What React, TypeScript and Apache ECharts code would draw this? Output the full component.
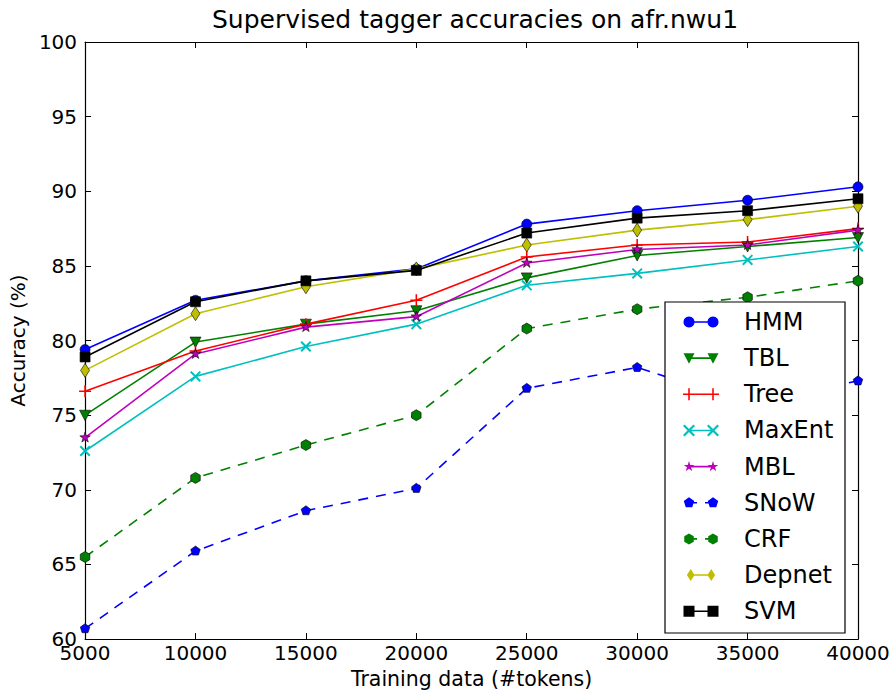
import React, { useEffect, useRef } from "react";
import * as echarts from "echarts";

const TITLE = "Supervised tagger accuracies on afr.nwu1";
const X_NAME = "Training data (#tokens)";
const Y_NAME = "Accuracy (%)";

const TOKENS = [5000, 10000, 15000, 20000, 25000, 30000, 35000, 40000];

const HMM = [79.4, 82.7, 84.0, 84.8, 87.8, 88.7, 89.4, 90.3];
const TBL = [75.0, 79.9, 81.1, 82.0, 84.2, 85.7, 86.3, 86.9];
const TREE = [76.6, 79.3, 81.1, 82.7, 85.6, 86.4, 86.6, 87.5];
const MAXENT = [72.6, 77.6, 79.6, 81.1, 83.7, 84.5, 85.4, 86.3];
const MBL = [73.5, 79.1, 80.9, 81.6, 85.2, 86.1, 86.4, 87.4];
const SNOW = [60.7, 65.9, 68.6, 70.1, 76.8, 78.2, 75.8, 77.3];
const CRF = [65.5, 70.8, 73.0, 75.0, 80.8, 82.1, 82.9, 84.0];
const DEPNET = [78.0, 81.8, 83.6, 84.8, 86.4, 87.4, 88.1, 89.0];
const SVM = [78.9, 82.6, 84.0, 84.7, 87.2, 88.2, 88.7, 89.5];

type Pt = [number, number];
type Poly = Pt[];

function regular(n: number, r: number, startDeg: number): Poly {
  const pts: Poly = [];
  for (let i = 0; i < n; i++) {
    const a = ((startDeg + (360 / n) * i) * Math.PI) / 180;
    pts.push([r * Math.cos(a), r * Math.sin(a)]);
  }
  return pts;
}
function starPoly(): Poly {
  const pts: Poly = [];
  for (let i = 0; i < 10; i++) {
    const r = i % 2 === 0 ? 0.5 : 0.5 * 0.382;
    const a = ((-90 + 36 * i) * Math.PI) / 180;
    pts.push([r * Math.cos(a), r * Math.sin(a)]);
  }
  return pts;
}
const T = 0.065;
const SHAPES: Record<string, Poly[]> = {
  circle: [regular(28, 0.5, 0)],
  triDown: [[[-0.5, -0.45], [0.5, -0.45], [0, 0.5]]],
  plus: [
    [[-0.5, -T], [0.5, -T], [0.5, T], [-0.5, T]],
    [[-T, -0.5], [T, -0.5], [T, 0.5], [-T, 0.5]],
  ],
  cross: [
    [[-0.5, -0.5 + 2 * T], [-0.5 + 2 * T, -0.5], [0.5, 0.5 - 2 * T], [0.5 - 2 * T, 0.5]],
    [[0.5 - 2 * T, -0.5], [0.5, -0.5 + 2 * T], [-0.5 + 2 * T, 0.5], [-0.5, 0.5 - 2 * T]],
  ],
  star: [starPoly()],
  pentagon: [regular(5, 0.5, -90)],
  hexagon: [regular(6, 0.5, -90)],
  diamond: [[[0, -0.5], [0.32, 0], [0, 0.5], [-0.32, 0]]],
  square: [[[-0.5, -0.5], [0.5, -0.5], [0.5, 0.5], [-0.5, 0.5]]],
};

function polysToD(polys: Poly[], cx: number, cy: number, s: number): string {
  return polys
    .map(
      (p) =>
        p
          .map((q, i) => `${i === 0 ? "M" : "L"}${(cx + q[0] * s).toFixed(2)},${(cy + q[1] * s).toFixed(2)}`)
          .join(" ") + " Z"
    )
    .join(" ");
}
function seriesSymbol(shape: string): string {
  return "path://M0,0 M10,10 " + polysToD(SHAPES[shape], 5, 5, 10);
}
function rectD(x0: number, x1: number, y: number, h: number): string {
  return `M${x0},${y - h / 2} L${x1},${y - h / 2} L${x1},${y + h / 2} L${x0},${y + h / 2} Z`;
}
function legendIcon(shape: string, dashed: boolean, ms: number): string {
  const line = dashed
    ? rectD(6, 14, 6, 1.6) + " " + rectD(22, 30, 6, 1.6)
    : rectD(6, 30, 6, 1.6);
  return (
    "path://M0,0 M36,12 " +
    line +
    " " +
    polysToD(SHAPES[shape], 6, 6, ms) +
    " " +
    polysToD(SHAPES[shape], 30, 6, ms)
  );
}

const SERIES_DEF = [
  { name: "HMM", data: HMM, color: "#0000ff", shape: "circle", size: 10, dashed: false, edge: true },
  { name: "TBL", data: TBL, color: "#008000", shape: "triDown", size: 11, dashed: false, edge: true },
  { name: "Tree", data: TREE, color: "#ff0000", shape: "plus", size: 12, dashed: false, edge: false },
  { name: "MaxEnt", data: MAXENT, color: "#00bfbf", shape: "cross", size: 11, dashed: false, edge: false },
  { name: "MBL", data: MBL, color: "#bf00bf", shape: "star", size: 11, dashed: false, edge: true },
  { name: "SNoW", data: SNOW, color: "#0000ff", shape: "pentagon", size: 10, dashed: true, edge: true },
  { name: "CRF", data: CRF, color: "#008000", shape: "hexagon", size: 11, dashed: true, edge: true },
  { name: "Depnet", data: DEPNET, color: "#bfbf00", shape: "diamond", size: 14, dashed: false, edge: true },
  { name: "SVM", data: SVM, color: "#000000", shape: "square", size: 10, dashed: false, edge: true },
];

const FONT = "DejaVu Sans";

export default function App() {
  const ref = useRef<HTMLDivElement>(null);
  useEffect(() => {
    if (!ref.current) return;
    const chart = echarts.init(ref.current, undefined, { renderer: "svg" });
    const series = SERIES_DEF.map((s) => ({
      name: s.name,
      type: "line",
      data: TOKENS.map((t, i) => [t, s.data[i]]),
      symbol: seriesSymbol(s.shape),
      symbolSize: s.size,
      showSymbol: true,
      clip: true,
      lineStyle: { color: s.color, width: 1.6, type: s.dashed ? [10, 8] : "solid" },
      itemStyle: {
        color: s.color,
        borderColor: s.edge ? "#000" : s.color,
        borderWidth: s.edge ? 0.6 : 0,
      },
      emphasis: { disabled: true },
    }));
    const axisCommon = {
      axisLine: { show: true, lineStyle: { color: "#000", width: 1.2 } },
      axisTick: { show: true, inside: true, length: 6, lineStyle: { color: "#000", width: 1 } },
      splitLine: { show: false },
    };
    chart.setOption({
      animation: false,
      backgroundColor: "#fff",
      title: {
        text: TITLE,
        left: 470,
        top: 2,
        textAlign: "center",
        textStyle: { fontFamily: FONT, fontSize: 25, fontWeight: "normal", color: "#000" },
      },
      grid: { left: 83, right: 37, top: 42, bottom: 51, containLabel: false },
      xAxis: [
        {
          type: "value",
          min: 5000,
          max: 40000,
          interval: 5000,
          position: "bottom",
          name: X_NAME,
          nameLocation: "middle",
          nameGap: 28,
          nameTextStyle: { fontFamily: FONT, fontSize: 20.5, color: "#000" },
          axisLabel: {
            fontFamily: FONT,
            fontSize: 20,
            color: "#000",
            margin: 4,
            formatter: (v: number) => String(v),
          },
          ...axisCommon,
        },
        {
          type: "value",
          min: 5000,
          max: 40000,
          interval: 5000,
          position: "top",
          axisLabel: { show: false },
          ...axisCommon,
        },
      ],
      yAxis: [
        {
          type: "value",
          min: 60,
          max: 100,
          interval: 5,
          position: "left",
          name: Y_NAME,
          nameLocation: "middle",
          nameGap: 53,
          nameRotate: 90,
          nameTextStyle: { fontFamily: FONT, fontSize: 20, color: "#000" },
          axisLabel: { fontFamily: FONT, fontSize: 20, color: "#000", margin: 8 },
          ...axisCommon,
        },
        {
          type: "value",
          min: 60,
          max: 100,
          interval: 5,
          position: "right",
          axisLabel: { show: false },
          ...axisCommon,
        },
      ],
      legend: {
        orient: "vertical",
        left: 683,
        top: 310,
        padding: 0,
        z: 20,
        itemWidth: 36,
        itemHeight: 12,
        itemGap: 12.15,
        selectedMode: false,
        itemStyle: { borderWidth: 0 },
        textStyle: {
          fontFamily: FONT,
          fontSize: 24,
          color: "#000",
          lineHeight: 24,
          padding: [0, 0, 0, 20],
        },
        data: SERIES_DEF.map((s) => ({
          name: s.name,
          icon: legendIcon(s.shape, s.dashed, s.shape === "diamond" ? 14 : s.shape === "plus" || s.shape === "cross" ? 12 : 11),
          itemStyle: { color: s.color, borderWidth: 0 },
        })),
      },
      graphic: [
        {
          type: "rect",
          z: 10,
          shape: { x: 665, y: 302, width: 180, height: 331 },
          style: { fill: "#fff", stroke: "#000", lineWidth: 1.2 },
        },
      ],
      series,
    });
    return () => chart.dispose();
  }, []);
  return (
    <div
      ref={ref}
      style={{ position: "fixed", left: 0, top: 0, width: 895, height: 694, background: "#fff" }}
    />
  );
}
